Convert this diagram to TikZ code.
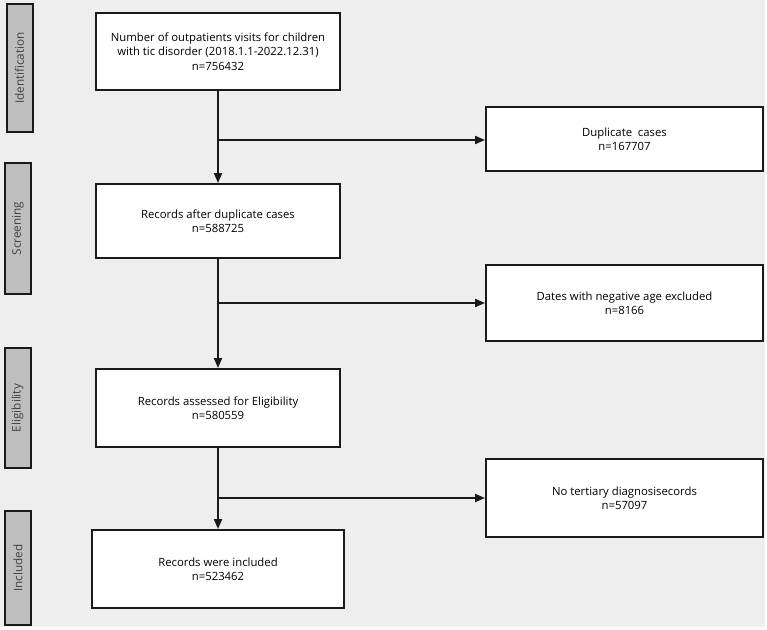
\documentclass[tikz,border=0pt]{standalone}
\usepackage{xcolor}
\usepackage{fontspec}
\setmainfont{Open Sans}
\usepackage{tikz}
\usetikzlibrary{shapes, arrows.meta, positioning}

\definecolor{bggray}{HTML}{EEEEEE}
\definecolor{stagegray}{HTML}{BEBEBE}
\definecolor{linedark}{HTML}{1A1A1A}

\begin{document}
\begin{tikzpicture}[x=0.75pt, y=-0.75pt,
		font=\fontsize{8.5pt}{10.8pt}\selectfont,
		box/.style={draw=linedark, line width=1.4pt, fill=white, align=center, inner sep=2pt},
		stage/.style={draw=linedark, line width=1.5pt, fill=stagegray, minimum width=19.5pt, inner sep=0pt},
		stagetext/.style={rotate=90, text=black!75, font=\fontsize{8.8pt}{10pt}\selectfont},
		flow/.style={draw=linedark, line width=1.4pt, -{Triangle[length=7.5pt, width=6pt]}}]
				\useasboundingbox (0,0) rectangle (767,630);
				\fill[bggray] (0,0) rectangle (765,627);

				\node[stage, minimum height=96pt] (s1) at (19.5,68) {};
				\node[stage, minimum height=98.25pt] (s2) at (18,228.5) {};
				\node[stage, minimum height=90pt] (s3) at (17.5,408) {};
				\node[stage, minimum height=85.5pt] (s4) at (18,568) {};
				\node[stagetext] at (s1) {Identification};
				\node[stagetext] at (s2) {Screening};
				\node[stagetext] at (s3) {Eligibility};
				\node[stagetext] at (s4) {Included};

				\node[box, minimum width=183pt, minimum height=57.75pt] (1) at (218,51.5) {Number of outpatients visits for children\\with tic disorder (2018.1.1-2022.12.31)\\n=756432};
				\node[box, minimum width=183pt, minimum height=55.5pt] (2) at (218,221) {Records after duplicate cases\\n=588725};
				\node[box, minimum width=183pt, minimum height=58.5pt] (3) at (218,408) {Records assessed for Eligibility\\n=580559};
				\node[box, minimum width=189pt, minimum height=58.5pt] (4) at (218,569) {Records were included\\n=523462};

				\node[box, minimum width=207.75pt, minimum height=48pt] (e1) at (624.5,139) {Duplicate\ \ cases\\n=167707};
				\node[box, minimum width=207.75pt, minimum height=57pt] (e2) at (624.5,303) {Dates with negative age excluded\\n=8166};
				\node[box, minimum width=207.75pt, minimum height=58.5pt] (e3) at (624.5,498) {No tertiary diagnosisecords\\n=57097};

				\coordinate (j1) at (218,140);
				\coordinate (j2) at (218,303);
				\coordinate (j3) at (218,498);

				\draw[flow] (1) -- (2);
				\draw[flow] (2) -- (3);
				\draw[flow] (3) -- (4);
				\draw[flow] (j1) -- (j1 -| e1.west);
				\draw[flow] (j2) -- (j2 -| e2.west);
				\draw[flow] (j3) -- (j3 -| e3.west);
			\end{tikzpicture}
\end{document}
